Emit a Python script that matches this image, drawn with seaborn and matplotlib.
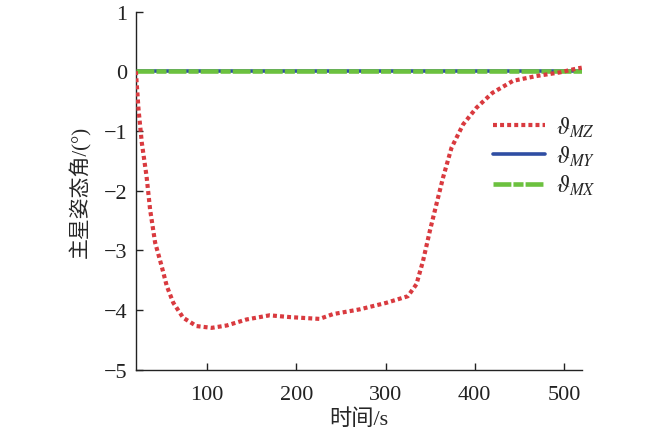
import matplotlib
matplotlib.use("Agg")
import matplotlib.pyplot as plt
import seaborn as sns
import pandas as pd

# Data
t_mz = [20, 23, 26.7, 32, 36, 41.6, 49, 54.7, 62, 73, 88, 105, 122, 144, 170, 193,
        226, 241, 271, 301, 325, 334.6, 342, 349.6, 357, 364.5, 374, 387, 402, 420,
        443, 469, 495, 515.6, 520]
theta_mz = [0.0, -0.64, -1.2, -1.76, -2.32, -2.87, -3.27, -3.6, -3.88, -4.13, -4.27,
            -4.30, -4.26, -4.16, -4.09, -4.12, -4.15, -4.07, -3.99, -3.88, -3.77, -3.57,
            -3.18, -2.68, -2.23, -1.78, -1.28, -0.89, -0.61, -0.36, -0.16, -0.08, -0.02,
            0.05, 0.06]
t_flat = [20, 520]
theta_my = [0.0, 0.0]
theta_mx = [0.0, 0.0]

df_mz = pd.DataFrame({'t': t_mz, 'v': theta_mz})
df_flat = pd.DataFrame({'t': t_flat, 'my': theta_my, 'mx': theta_mx})

sns.set_style("ticks")
plt.rcParams['font.family'] = ['Liberation Serif', 'Noto Sans CJK SC']
plt.rcParams['mathtext.fontset'] = 'stix'
plt.rcParams['axes.unicode_minus'] = True

fig = plt.figure(figsize=(6.5, 4.35), dpi=100)
ax = fig.add_axes([0.209, 0.148, 0.686, 0.823])

sns.lineplot(data=df_flat, x='t', y='my', ax=ax, color='#2f4ea3', lw=2.6,
             label=r'$\vartheta_{MY}$', zorder=2)
sns.lineplot(data=df_flat, x='t', y='mx', ax=ax, color='#6cc13f', lw=3.3,
             label=r'$\vartheta_{MX}$', zorder=3)
ax.lines[-1].set_dashes([3.9, 0.45, 2.2, 0.45])
sns.lineplot(data=df_mz, x='t', y='v', ax=ax, color='#d93a3f', lw=3,
             label=r'$\vartheta_{MZ}$', zorder=4)
ax.lines[-1].set_dashes([0.95, 0.75])

ax.set_xlim(20, 520)
ax.set_ylim(-5, 1)
ax.set_xticks([100, 200, 300, 400, 500])
ax.set_yticks([1, 0, -1, -2, -3, -4, -5])
ax.tick_params(direction='in', labelsize=16, length=5, width=1, pad=6, colors='#222222')
ax.tick_params(axis='x', pad=11)
for s in ['top', 'right']:
    ax.spines[s].set_visible(False)
for s in ['left', 'bottom']:
    ax.spines[s].set_color('#222222')
    ax.spines[s].set_linewidth(1)

ax.set_xlabel('时间/s', fontsize=16, labelpad=3)
ax.set_ylabel('主星姿态角/(°)', fontsize=15, labelpad=9)

h, l = ax.get_legend_handles_labels()
order = [2, 0, 1]
ax.legend([h[i] for i in order], [l[i] for i in order], frameon=False, fontsize=17,
          loc='upper left', bbox_to_anchor=(0.80, 0.712), handlelength=2.2,
          handletextpad=0.5, labelspacing=0.2, borderaxespad=0, borderpad=0)

fig.savefig('out.png', dpi=100)
